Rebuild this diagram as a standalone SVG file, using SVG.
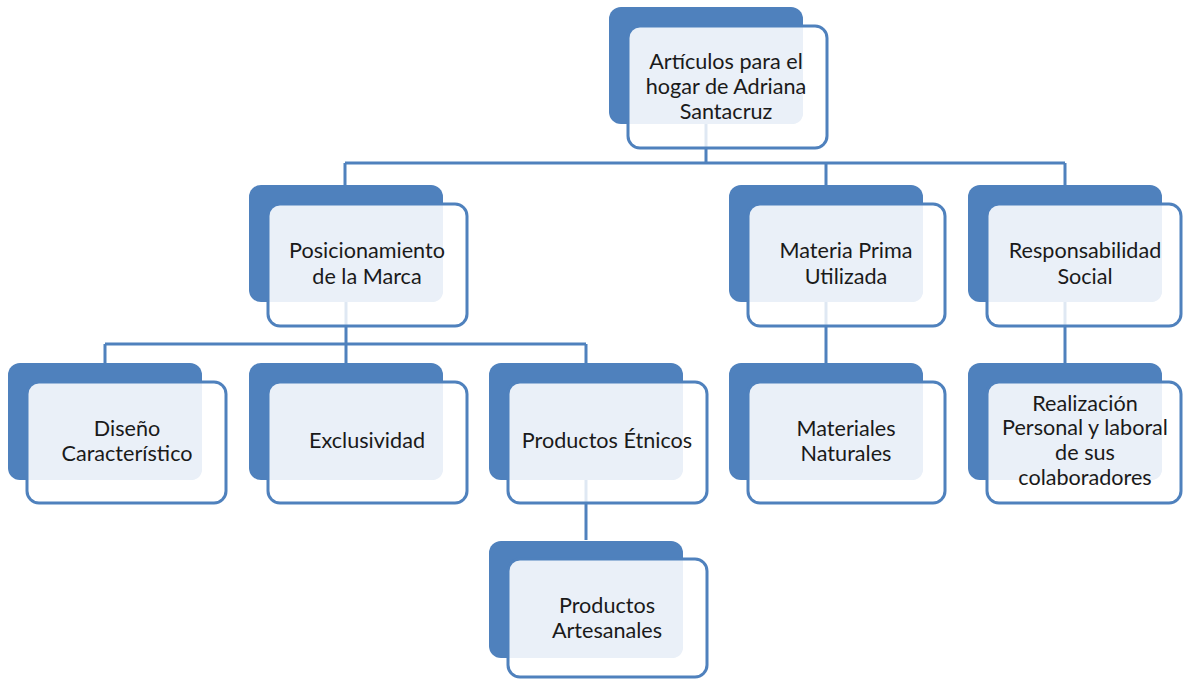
<svg xmlns="http://www.w3.org/2000/svg" width="1183" height="679" viewBox="0 0 1183 679">
<style>
.back{fill:#4f81bd}
.ff{fill:#ffffff;fill-opacity:0.82}
.ov{fill:#eaf0f8}
.fs{fill:none;stroke:#4f81bd;stroke-width:3}
.con{fill:none;stroke:#4f81bd;stroke-width:3}
text{font-family:Lato,"Open Sans","Liberation Sans",sans-serif;font-size:21.6px;fill:#1a1a1a;text-anchor:middle}
</style>
<rect width="1183" height="679" fill="#ffffff"/>
<g id="connectors">
<path class="con" d="M706,124 V163 M345,163 H1065 M345,163 V185 M826,163 V185 M1065,163 V185"/>
<path class="con" d="M346,302 V344 M105,344 H586 M105,344 V363 M346,344 V363 M586,344 V363"/>
<path class="con" d="M586,480 V540"/>
<path class="con" d="M826,302 V363"/>
<path class="con" d="M1065,302 V363"/>
</g>
<g id="n-top">
<rect class="back" x="609" y="7" width="194" height="117" rx="12"/>
<rect class="ff" x="628" y="26" width="199" height="122" rx="12"/>
<path class="ov" d="M640,26 H803 V112 Q803,124 791,124 H628 V38 Q628,26 640,26 Z"/>
<rect class="fs" x="628" y="26" width="199" height="122" rx="12"/>
<text x="726" y="69">Artículos para el</text>
<text x="726" y="94">hogar de Adriana</text>
<text x="726" y="119">Santacruz</text>
</g>
<g id="n-posicionamiento">
<rect class="back" x="249" y="185" width="194" height="117" rx="12"/>
<rect class="ff" x="268" y="204" width="199" height="122" rx="12"/>
<path class="ov" d="M280,204 H443 V290 Q443,302 431,302 H268 V216 Q268,204 280,204 Z"/>
<rect class="fs" x="268" y="204" width="199" height="122" rx="12"/>
<text x="367" y="258">Posicionamiento</text>
<text x="367" y="284">de la Marca</text>
</g>
<g id="n-materia">
<rect class="back" x="729" y="185" width="194" height="117" rx="12"/>
<rect class="ff" x="748" y="204" width="197" height="122" rx="12"/>
<path class="ov" d="M760,204 H923 V290 Q923,302 911,302 H748 V216 Q748,204 760,204 Z"/>
<rect class="fs" x="748" y="204" width="197" height="122" rx="12"/>
<text x="846" y="258">Materia Prima</text>
<text x="846" y="284">Utilizada</text>
</g>
<g id="n-responsabilidad">
<rect class="back" x="968" y="185" width="194" height="117" rx="12"/>
<rect class="ff" x="987" y="204" width="194" height="122" rx="12"/>
<path class="ov" d="M999,204 H1162 V290 Q1162,302 1150,302 H987 V216 Q987,204 999,204 Z"/>
<rect class="fs" x="987" y="204" width="194" height="122" rx="12"/>
<text x="1085" y="258">Responsabilidad</text>
<text x="1085" y="284">Social</text>
</g>
<g id="n-diseno">
<rect class="back" x="8" y="363" width="194" height="117" rx="12"/>
<rect class="ff" x="27" y="382" width="199" height="121" rx="12"/>
<path class="ov" d="M39,382 H202 V468 Q202,480 190,480 H27 V394 Q27,382 39,382 Z"/>
<rect class="fs" x="27" y="382" width="199" height="121" rx="12"/>
<text x="127" y="436">Diseño</text>
<text x="127" y="461">Característico</text>
</g>
<g id="n-exclusividad">
<rect class="back" x="249" y="363" width="194" height="117" rx="12"/>
<rect class="ff" x="268" y="382" width="199" height="121" rx="12"/>
<path class="ov" d="M280,382 H443 V468 Q443,480 431,480 H268 V394 Q268,382 280,382 Z"/>
<rect class="fs" x="268" y="382" width="199" height="121" rx="12"/>
<text x="367" y="448">Exclusividad</text>
</g>
<g id="n-etnicos">
<rect class="back" x="489" y="363" width="194" height="117" rx="12"/>
<rect class="ff" x="508" y="382" width="199" height="121" rx="12"/>
<path class="ov" d="M520,382 H683 V468 Q683,480 671,480 H508 V394 Q508,382 520,382 Z"/>
<rect class="fs" x="508" y="382" width="199" height="121" rx="12"/>
<text x="607" y="448">Productos Étnicos</text>
</g>
<g id="n-materiales">
<rect class="back" x="729" y="363" width="194" height="117" rx="12"/>
<rect class="ff" x="748" y="382" width="197" height="121" rx="12"/>
<path class="ov" d="M760,382 H923 V468 Q923,480 911,480 H748 V394 Q748,382 760,382 Z"/>
<rect class="fs" x="748" y="382" width="197" height="121" rx="12"/>
<text x="846" y="436">Materiales</text>
<text x="846" y="461">Naturales</text>
</g>
<g id="n-realizacion">
<rect class="back" x="968" y="363" width="194" height="117" rx="12"/>
<rect class="ff" x="987" y="382" width="194" height="121" rx="12"/>
<path class="ov" d="M999,382 H1162 V468 Q1162,480 1150,480 H987 V394 Q987,382 999,382 Z"/>
<rect class="fs" x="987" y="382" width="194" height="121" rx="12"/>
<text x="1085" y="411">Realización</text>
<text x="1085" y="435">Personal y laboral</text>
<text x="1085" y="460">de sus</text>
<text x="1085" y="485">colaboradores</text>
</g>
<g id="n-artesanales">
<rect class="back" x="489" y="541" width="194" height="117" rx="12"/>
<rect class="ff" x="508" y="559" width="199" height="118" rx="12"/>
<path class="ov" d="M520,559 H683 V646 Q683,658 671,658 H508 V571 Q508,559 520,559 Z"/>
<rect class="fs" x="508" y="559" width="199" height="118" rx="12"/>
<text x="607" y="613">Productos</text>
<text x="607" y="638">Artesanales</text>
</g>
</svg>
